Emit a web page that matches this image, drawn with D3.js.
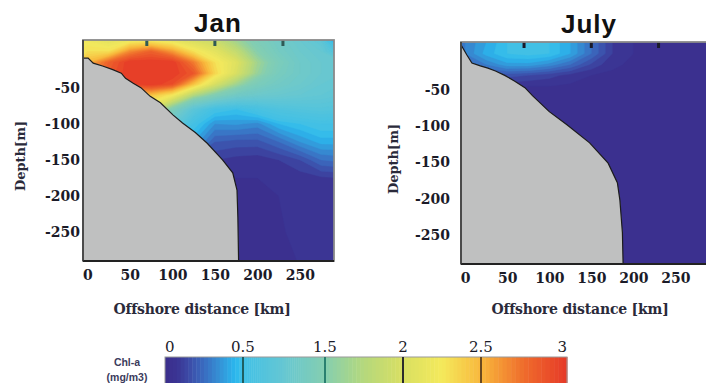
<!DOCTYPE html>
<html>
<head>
<meta charset="utf-8">
<script src="https://cdn.jsdelivr.net/npm/d3@7"></script>
<style>
  html, body { margin: 0; padding: 0; background: #fff; }
  svg { display: block; }
</style>
</head>
<body>
<script>
// --- data ---
// grid of the chlorophyll sections (offshore distance x depth)
const distKm = [0, 25, 50, 75, 100, 125, 150, 175, 200, 225, 250, 275, 300];
const depthM = [15, 0, -15, -30, -45, -60, -80, -100, -125, -150, -175, -200, -250, -300];

// Chl-a (mg/m3), one row per depth
const chlJan = [
  [2.2, 2.1, 2.2, 2.25, 2.15, 2.0, 1.9, 1.65, 1.4, 1.2, 1.05, 0.9, 0.0],
  [2.3, 2.3, 2.65, 2.8, 2.6, 2.3, 2.1, 1.85, 1.5, 1.25, 1.1, 1.0, 0.6],
  [2.5, 2.8, 3.0, 3.0, 3.0, 2.7, 2.3, 2.05, 1.65, 1.35, 1.15, 1.05, 1.0],
  [2.6, 2.85, 3.0, 3.0, 3.0, 2.85, 2.35, 2.0, 1.6, 1.3, 1.15, 1.05, 1.0],
  [2.5, 2.6, 2.95, 3.0, 2.9, 2.45, 2.0, 1.65, 1.35, 1.2, 1.1, 1.0, 0.95],
  [2.2, 2.2, 2.45, 2.45, 2.25, 1.75, 1.45, 1.2, 1.1, 1.05, 1.0, 0.95, 0.9],
  [2.0, 2.0, 2.0, 2.0, 1.4, 0.85, 0.55, 0.5, 0.6, 0.7, 0.75, 0.78, 0.75],
  [1.0, 1.0, 1.0, 1.0, 1.0, 0.55, 0.35, 0.36, 0.33, 0.45, 0.5, 0.55, 0.55],
  [0.5, 0.5, 0.5, 0.5, 0.5, 0.4, 0.2, 0.18, 0.18, 0.25, 0.35, 0.42, 0.42],
  [0.2, 0.2, 0.2, 0.2, 0.2, 0.15, 0.1, 0.08, 0.07, 0.1, 0.15, 0.25, 0.27],
  [0.06, 0.06, 0.06, 0.06, 0.06, 0.06, 0.05, 0.05, 0.05, 0.06, 0.07, 0.09, 0.1],
  [0.04, 0.04, 0.04, 0.04, 0.04, 0.04, 0.04, 0.04, 0.04, 0.05, 0.05, 0.06, 0.06],
  [0.04, 0.04, 0.04, 0.04, 0.04, 0.04, 0.04, 0.04, 0.04, 0.045, 0.06, 0.08, 0.08],
  [0.04, 0.04, 0.04, 0.04, 0.04, 0.04, 0.04, 0.04, 0.04, 0.04, 0.05, 0.06, 0.06]
];

const chlJul = [
  [0.3, 0.4, 0.5, 0.52, 0.5, 0.4, 0.25, 0.1, 0.05, 0.04, 0.04, 0.04, 0.04],
  [0.3, 0.42, 0.5, 0.52, 0.5, 0.4, 0.25, 0.1, 0.05, 0.04, 0.04, 0.04, 0.04],
  [0.2, 0.3, 0.38, 0.38, 0.33, 0.25, 0.14, 0.06, 0.04, 0.04, 0.04, 0.04, 0.04],
  [0.12, 0.16, 0.17, 0.15, 0.12, 0.08, 0.05, 0.04, 0.04, 0.04, 0.04, 0.04, 0.04],
  [0.05, 0.06, 0.06, 0.05, 0.05, 0.04, 0.04, 0.035, 0.035, 0.035, 0.035, 0.035, 0.035],
  [0.035, 0.035, 0.035, 0.035, 0.035, 0.035, 0.035, 0.035, 0.035, 0.035, 0.035, 0.035, 0.035],
  [0.035, 0.035, 0.035, 0.035, 0.035, 0.035, 0.035, 0.035, 0.035, 0.035, 0.035, 0.035, 0.035],
  [0.035, 0.035, 0.035, 0.035, 0.035, 0.035, 0.035, 0.035, 0.035, 0.035, 0.035, 0.035, 0.035],
  [0.035, 0.035, 0.035, 0.035, 0.035, 0.035, 0.035, 0.035, 0.035, 0.035, 0.035, 0.035, 0.035],
  [0.035, 0.035, 0.035, 0.035, 0.035, 0.035, 0.035, 0.035, 0.035, 0.035, 0.035, 0.035, 0.035],
  [0.035, 0.035, 0.035, 0.035, 0.035, 0.035, 0.035, 0.035, 0.035, 0.035, 0.035, 0.035, 0.035],
  [0.035, 0.035, 0.035, 0.035, 0.035, 0.035, 0.035, 0.035, 0.035, 0.035, 0.035, 0.035, 0.035],
  [0.035, 0.035, 0.035, 0.035, 0.035, 0.035, 0.035, 0.035, 0.035, 0.035, 0.035, 0.035, 0.035],
  [0.035, 0.035, 0.035, 0.035, 0.035, 0.035, 0.035, 0.035, 0.035, 0.035, 0.035, 0.035, 0.035]
];

// shelf / bottom profile [km, m]
const shelfJan = [[-6, -9], [1, -9], [7, -16], [18, -20], [30, -25], [40, -30], [45, -37],
  [54, -44], [63, -50], [74, -62], [86, -71], [101, -88], [112, -99], [127, -112],
  [141, -127], [159, -150], [171, -168], [176, -192], [177, -229], [178, -300]];
const shelfJul = [[-5, 12], [2, -2], [8, -13], [18, -17], [27, -20], [36, -24], [47, -30],
  [59, -38], [71, -47], [80, -58], [100, -80], [121, -98], [148, -123], [170, -151],
  [181, -178], [184, -202], [187, -247], [188, -300]];

const xTicks = [0, 50, 100, 150, 200, 250];
const yTicks = [-50, -100, -150, -200, -250];
const topTicks = [70, 150, 230];
const barTicks = [0, 0.5, 1.5, 2, 2.5, 3];
const barTickLabels = ["0", "0.5", "1.5", "2", "2.5", "3"];

// colour map (value -> colour), jet-like
const cmapValues = [0, 0.08, 0.15, 0.25, 0.35, 0.45, 0.5, 1.0, 1.5, 1.75, 2.0, 2.25, 2.5, 2.75, 3.0];
const cmapColors = ["#3b2e8c", "#3b3594", "#3c4aa6", "#3a6cc0", "#3592d6", "#2ab8ee", "#40c0e6",
  "#66c7d2", "#85ceb0", "#b5d87c", "#d9df62", "#f4e95c", "#f8b83c", "#ef6c2c", "#e63a28"];

const color = d3.scaleLinear().domain(cmapValues).range(cmapColors).clamp(true);

const W = 706, H = 383;
const serif = "'DejaVu Serif', 'Liberation Serif', serif";
const sans = "'Liberation Sans', Arial, sans-serif";

const svg = d3.select("body").append("svg")
  .attr("width", W).attr("height", H);

const panels = [
  { title: "Jan", values: chlJan, shelf: shelfJan, x0: 83, x1: 334, y0: 40, y1: 261,
    titleX: 218, titleY: 32, ylabX: 20, ylabY: 156, xlabX: 202, yPad: 3 },
  { title: "July", values: chlJul, shelf: shelfJul, x0: 461, x1: 709, y0: 42, y1: 264,
    titleX: 589, titleY: 33, ylabX: 393, ylabY: 159, xlabX: 580, yPad: 11 }
];

const nx = distKm.length, ny = depthM.length;
const thresholds = d3.range(0, 3, 0.05);
const gi = d3.scaleLinear().domain(d3.range(nx)).range(distKm);
const gj = d3.scaleLinear().domain(d3.range(ny)).range(depthM);

panels.forEach((p, k) => {
  const x = d3.scaleLinear().domain([-5, 290]).range([p.x0, p.x1]);
  const y = d3.scaleLinear().domain([16, -290]).range([p.y0, p.y1]);

  const clipId = "clip" + k;
  svg.append("clipPath").attr("id", clipId)
    .append("rect")
      .attr("x", p.x0).attr("y", p.y0)
      .attr("width", p.x1 - p.x0).attr("height", p.y1 - p.y0);

  const g = svg.append("g").attr("clip-path", `url(#${clipId})`);

  // filled contours
  const proj = d3.geoTransform({
    point: function(px, py) {
      this.stream.point(x(gi(px - 0.5)), y(gj(py - 0.5)));
    }
  });
  const path = d3.geoPath(proj);
  const contours = d3.contours().size([nx, ny]).thresholds(thresholds)(p.values.flat());
  g.selectAll("path.band")
    .data(contours)
    .join("path")
      .attr("class", "band")
      .attr("d", path)
      .attr("fill", d => color(d.value + 0.025))
      .attr("stroke", d => color(d.value + 0.025))
      .attr("stroke-width", 0.4);

  // shelf
  const shelfPoly = p.shelf.concat([[-20, -300], [-20, p.shelf[0][1]]]);
  g.append("path")
    .attr("d", d3.line().x(d => x(d[0])).y(d => y(d[1]))(shelfPoly) + "Z")
    .attr("fill", "#bfc0c0");
  g.append("path")
    .attr("d", d3.line().x(d => x(d[0])).y(d => y(d[1]))(p.shelf))
    .attr("fill", "none")
    .attr("stroke", "#1c1c1c")
    .attr("stroke-width", 1.2);

  // small tick marks along the top
  g.selectAll("rect.tt")
    .data(topTicks)
    .join("rect")
      .attr("class", "tt")
      .attr("x", d => x(d) - 1.5).attr("y", p.y0)
      .attr("width", 3).attr("height", 6)
      .attr("fill", k === 0 ? "#2f5a55" : "#1a1a2a");

  // box
  svg.append("rect")
    .attr("x", p.x0).attr("y", p.y0)
    .attr("width", p.x1 - p.x0).attr("height", p.y1 - p.y0)
    .attr("fill", "none").attr("stroke", "#8a8a8a").attr("stroke-width", 1.8);
  svg.append("line")
    .attr("x1", p.x0).attr("x2", p.x1).attr("y1", p.y1).attr("y2", p.y1)
    .attr("stroke", "#222").attr("stroke-width", 2);
  svg.append("line")
    .attr("x1", p.x0).attr("x2", p.x0).attr("y1", p.y0).attr("y2", p.y1)
    .attr("stroke", "#333").attr("stroke-width", 1.5);

  // axes
  const ax = svg.append("g")
    .attr("transform", `translate(0,${p.y1})`)
    .call(d3.axisBottom(x).tickValues(xTicks).tickSize(0).tickPadding(9));
  ax.select(".domain").remove();
  ax.selectAll("text")
    .attr("font-family", serif).attr("font-size", 14).attr("font-weight", "bold")
    .attr("fill", "#1b1b28");

  const ay = svg.append("g")
    .attr("transform", `translate(${p.x0},0)`)
    .call(d3.axisLeft(y).tickValues(yTicks).tickFormat(d => String(d))
      .tickSize(0).tickPadding(p.yPad));
  ay.select(".domain").remove();
  ay.selectAll("text")
    .attr("font-family", serif).attr("font-size", 14).attr("font-weight", "bold")
    .attr("fill", "#1b1b28");

  // titles
  svg.append("text")
    .attr("x", p.titleX).attr("y", p.titleY)
    .attr("text-anchor", "middle")
    .attr("font-family", sans).attr("font-weight", "bold").attr("font-size", 26)
    .attr("letter-spacing", 1)
    .attr("fill", "#111")
    .text(p.title);

  svg.append("text")
    .attr("transform", `translate(${p.ylabX},${p.ylabY}) rotate(-90)`)
    .attr("text-anchor", "middle").attr("dy", "0.35em")
    .attr("font-family", serif).attr("font-size", 13).attr("font-weight", "bold")
    .attr("fill", "#2a2a3a")
    .text("Depth[m]");

  svg.append("text")
    .attr("x", p.xlabX).attr("y", 314)
    .attr("text-anchor", "middle")
    .attr("font-family", serif).attr("font-size", 14).attr("font-weight", "bold")
    .attr("fill", "#2a2a3a")
    .attr("letter-spacing", -0.2)
    .text("Offshore distance [km]");
});

// --- colour bar ---
const barPos = [165, 243, 325, 403, 481, 567];
const cb = d3.scaleLinear().domain(barTicks).range(barPos);
const barTop = 357, barBottom = 398;
const steps = d3.range(0, 3, 0.025);

svg.append("g").selectAll("rect")
  .data(steps)
  .join("rect")
    .attr("x", d => cb(d))
    .attr("y", barTop)
    .attr("width", d => cb(d + 0.025) - cb(d) + 0.5)
    .attr("height", barBottom - barTop)
    .attr("fill", d => color(d + 0.0125));

svg.append("rect")
  .attr("x", cb(0)).attr("y", barTop)
  .attr("width", cb(3) - cb(0)).attr("height", barBottom - barTop)
  .attr("fill", "none").attr("stroke", "#9a9a9a").attr("stroke-width", 1);

const lineColors = ["#1f5f60", "#2a8070", "#2b2b2b", "#6a4a20"];
svg.append("g").selectAll("line")
  .data(barTicks.slice(1, 5))
  .join("line")
    .attr("x1", d => cb(d)).attr("x2", d => cb(d))
    .attr("y1", barTop).attr("y2", barBottom)
    .attr("stroke", (d, i) => lineColors[i]).attr("stroke-width", 2);

svg.append("g").selectAll("text")
  .data(barTicks)
  .join("text")
    .attr("x", d => cb(d))
    .attr("y", 352)
    .attr("text-anchor", (d, i) => i === 0 ? "start" : i === barTicks.length - 1 ? "end" : "middle")
    .attr("font-family", serif).attr("font-size", 15).attr("fill", "#1b1b28")
    .text((d, i) => barTickLabels[i]);

svg.append("text")
  .attr("x", 127).attr("y", 366)
  .attr("text-anchor", "middle")
  .attr("font-family", sans).attr("font-weight", "bold").attr("font-size", 10.5)
  .attr("fill", "#3b3b5c")
  .text("Chl-a");
svg.append("text")
  .attr("x", 127).attr("y", 381)
  .attr("text-anchor", "middle")
  .attr("font-family", sans).attr("font-weight", "bold").attr("font-size", 10.5)
  .attr("fill", "#3b3b5c")
  .text("(mg/m3)");
</script>
</body>
</html>
